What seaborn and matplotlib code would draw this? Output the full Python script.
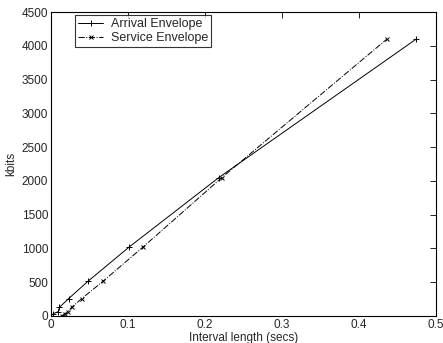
import matplotlib
matplotlib.use("Agg")
import matplotlib.pyplot as plt
import seaborn as sns
import pandas as pd

arrival_x = [0.0, 0.003, 0.0095, 0.011, 0.023, 0.048, 0.102, 0.218, 0.474]
arrival_y = [0, 32, 64, 128, 256, 512, 1024, 2048, 4096]
service_x = [0.014, 0.018, 0.022, 0.027, 0.040, 0.0675, 0.120, 0.222, 0.436]
service_y = [0, 32, 64, 128, 256, 512, 1024, 2048, 4096]
xticks = [0, 0.1, 0.2, 0.3, 0.4, 0.5]
xticklabels = ["0", "0.1", "0.2", "0.3", "0.4", "0.5"]
yticks = [0, 500, 1000, 1500, 2000, 2500, 3000, 3500, 4000, 4500]

sns.set_style("white")
plt.rcParams['font.family'] = ['Liberation Sans', 'DejaVu Sans']

fig = plt.figure(figsize=(4.43, 3.43), dpi=100)
ax = fig.add_axes([0.115, 0.079, 0.869, 0.886])

arr = pd.DataFrame({"x": arrival_x, "y": arrival_y})
ser = pd.DataFrame({"x": service_x, "y": service_y})

sns.lineplot(data=arr, x="x", y="y", ax=ax, color="black", linewidth=0.7,
             marker="+", markersize=5, markeredgewidth=0.7,
             markeredgecolor="black", sort=False,
             label="Arrival Envelope")
sns.lineplot(data=ser, x="x", y="y", ax=ax, color="black", linewidth=0.7,
             linestyle="-.", marker="x", markersize=3.5, markeredgewidth=0.7,
             markeredgecolor="black", sort=False, label="Service Envelope")

ax.set_xlim(0, 0.5)
ax.set_ylim(0, 4500)
ax.set_xticks(xticks)
ax.set_xticklabels(xticklabels)
ax.set_yticks(yticks)
ax.tick_params(direction="in", top=True, right=True, labelsize=8.5, length=4,
               width=0.6, pad=2, color="black")
for s in ax.spines.values():
    s.set_color("black")
    s.set_linewidth(0.8)
ax.set_xlabel("Interval length (secs)", fontsize=8.5, labelpad=1)
ax.set_ylabel("kbits", fontsize=8.5, labelpad=3)

leg = ax.legend(loc="upper left", bbox_to_anchor=(0.055, 1.0), fontsize=9,
                frameon=True, fancybox=False, edgecolor="black",
                borderpad=0.25, labelspacing=0.15, handlelength=2.0,
                handletextpad=0.6, borderaxespad=0.25)
leg.get_frame().set_linewidth(0.8)

fig.savefig("out.png", dpi=100)
